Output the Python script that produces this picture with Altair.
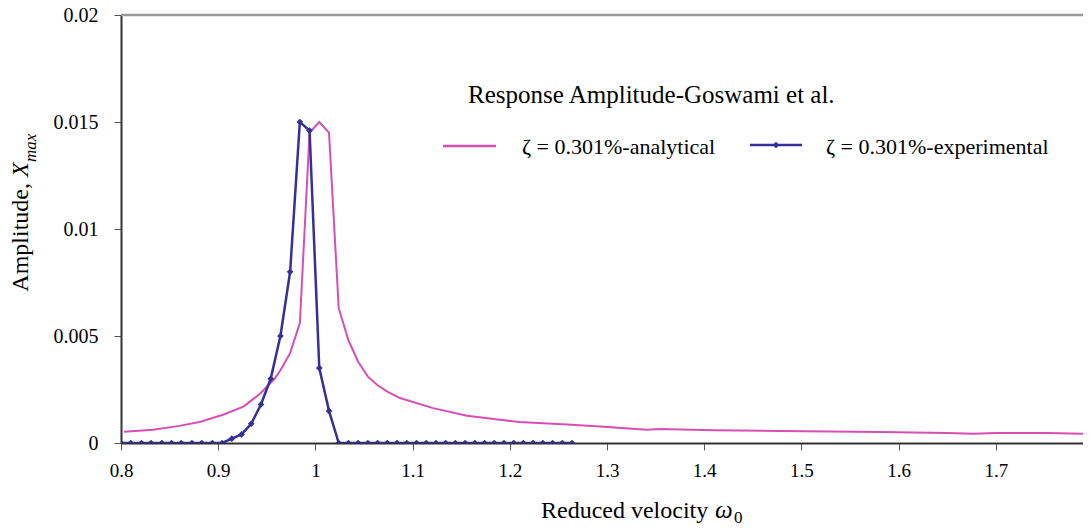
import altair as alt
import pandas as pd

# ---- data ----
ana_x = [0.803, 0.833, 0.860, 0.881, 0.905, 0.926, 0.943, 0.958, 0.964, 0.974,
         0.984, 0.994, 1.004, 1.014, 1.024, 1.034, 1.044, 1.054, 1.064, 1.074,
         1.087, 1.121, 1.156, 1.190, 1.210, 1.259, 1.293, 1.341, 1.355, 1.409,
         1.478, 1.581, 1.650, 1.677, 1.701, 1.752, 1.797]
ana_y = [0.00052, 0.00062, 0.00080, 0.00098, 0.00132, 0.00170, 0.00230, 0.00300, 0.00340, 0.00420,
         0.00560, 0.01450, 0.01500, 0.01450, 0.00630, 0.00480, 0.00380, 0.00310, 0.00270, 0.00240,
         0.00210, 0.00163, 0.00127, 0.00109, 0.00098, 0.00087, 0.00077, 0.00062, 0.00065, 0.00059,
         0.00056, 0.00051, 0.00047, 0.00043, 0.00047, 0.00047, 0.00043]

exp_x = [0.800, 0.810, 0.821, 0.831, 0.842, 0.852, 0.862, 0.873, 0.883, 0.894,
         0.904, 0.914, 0.924, 0.934, 0.944, 0.954, 0.964, 0.974, 0.984, 0.994,
         1.004, 1.014, 1.024, 1.034, 1.044, 1.054, 1.064, 1.074, 1.084, 1.094,
         1.104, 1.114, 1.124, 1.134, 1.144, 1.154, 1.164, 1.174, 1.184, 1.194,
         1.204, 1.214, 1.224, 1.234, 1.244, 1.254, 1.264]
exp_y = [0, 0, 0, 0, 0, 0, 0, 0, 0, 0,
         0, 0.0002, 0.0004, 0.0009, 0.0018, 0.0030, 0.0050, 0.0080, 0.0150, 0.0146,
         0.0035, 0.0015, 0, 0, 0, 0, 0, 0, 0, 0,
         0, 0, 0, 0, 0, 0, 0, 0, 0, 0,
         0, 0, 0, 0, 0, 0, 0]

x_ticks = [0.8, 0.9, 1.0, 1.1, 1.2, 1.3, 1.4, 1.5, 1.6, 1.7]
y_ticks = [0, 0.005, 0.01, 0.015, 0.02]

legend_title = "Response Amplitude-Goswami et al."
label_ana = "ζ = 0.301%-analytical"
label_exp = "ζ = 0.301%-experimental"

MAGENTA = "#D64FB4"
BLUE = "#33309A"
FONT = "Liberation Serif"

W, H = 962, 428
XMAX = 0.8 + W / 972.0

ana = pd.DataFrame({"x": ana_x, "y": ana_y})
exp = pd.DataFrame({"x": exp_x, "y": exp_y})

xs = alt.Scale(domain=[0.8, XMAX], nice=False, zero=False)
ys = alt.Scale(domain=[0, 0.02], nice=False)

xaxis = alt.Axis(values=x_ticks, format="~g", title=None, grid=False,
                 labelFont=FONT, labelFontSize=19, labelColor="black",
                 tickSize=7, tickColor="#555", domainColor="#333", domainWidth=2,
                 labelPadding=11, labelFlush=False)
yaxis = alt.Axis(values=y_ticks, format="~g", title=None, grid=False,
                 labelFont=FONT, labelFontSize=20, labelColor="black",
                 tickSize=7, tickColor="#555", domainColor="#333", domainWidth=2,
                 labelPadding=16)

base_ana = alt.Chart(ana)
line_ana = base_ana.mark_line(color=MAGENTA, strokeWidth=2, clip=True).encode(
    x=alt.X("x:Q", scale=xs, axis=xaxis),
    y=alt.Y("y:Q", scale=ys, axis=yaxis),
)

base_exp = alt.Chart(exp)
line_exp = base_exp.mark_line(color=BLUE, strokeWidth=2.5, clip=True).encode(
    x=alt.X("x:Q", scale=xs), y=alt.Y("y:Q", scale=ys))
pts_exp = base_exp.mark_point(shape="diamond", filled=True, color=BLUE, size=45,
                              opacity=1, clip=True).encode(
    x=alt.X("x:Q", scale=xs), y=alt.Y("y:Q", scale=ys))

one = pd.DataFrame({"k": [0]})
top_rule = alt.Chart(one).mark_rule(color="#999", strokeWidth=2.5).encode(
    x=alt.value(0), x2=alt.value(W), y=alt.value(0))

def txt(text, x, y, size, align="left", baseline="alphabetic", style="normal", angle=0):
    kw = dict(text=text, font=FONT, fontSize=size, align=align, baseline=baseline,
              color="black", fontStyle=style)
    if angle:
        kw["angle"] = angle
    return alt.Chart(one).mark_text(**kw).encode(x=alt.value(x), y=alt.value(y))

# legend (drawn inside the plot area)
leg = [
    txt(legend_title, 347, 88, 25),
    alt.Chart(one).mark_rule(color=MAGENTA, strokeWidth=2.5).encode(
        x=alt.value(322), x2=alt.value(375), y=alt.value(131)),
    txt(label_ana, 401, 132, 22, baseline="middle"),
    alt.Chart(one).mark_rule(color=BLUE, strokeWidth=2.5).encode(
        x=alt.value(629), x2=alt.value(681), y=alt.value(130)),
    alt.Chart(one).mark_point(shape="diamond", filled=True, color=BLUE, size=45, opacity=1).encode(
        x=alt.value(655), y=alt.value(130)),
    txt(label_exp, 705, 132, 22, baseline="middle"),
]

# axis titles
titles = [
    txt("Amplitude,", -93, 168, 24, align="right", angle=270),
    txt("X", -93, 162, 24, align="left", style="italic", angle=270),
    txt("max", -85, 147, 17, align="left", style="italic", angle=270),
    txt("Reduced velocity", 420, 503, 24),
    txt("ω", 594, 503, 25, style="italic"),
    txt("0", 613, 508, 17),
]

chart = alt.layer(line_ana, line_exp, pts_exp, top_rule, *leg, *titles).properties(
    width=W, height=H,
    autosize=alt.AutoSizeParams(type="none"),
    padding={"left": 113, "top": 7, "right": 0, "bottom": 84},
).configure_view(stroke=None).configure_axis(
    labelFont=FONT
).configure(background="white", font=FONT)

chart.save("out.html", embed_options={"renderer": "svg", "actions": False})
